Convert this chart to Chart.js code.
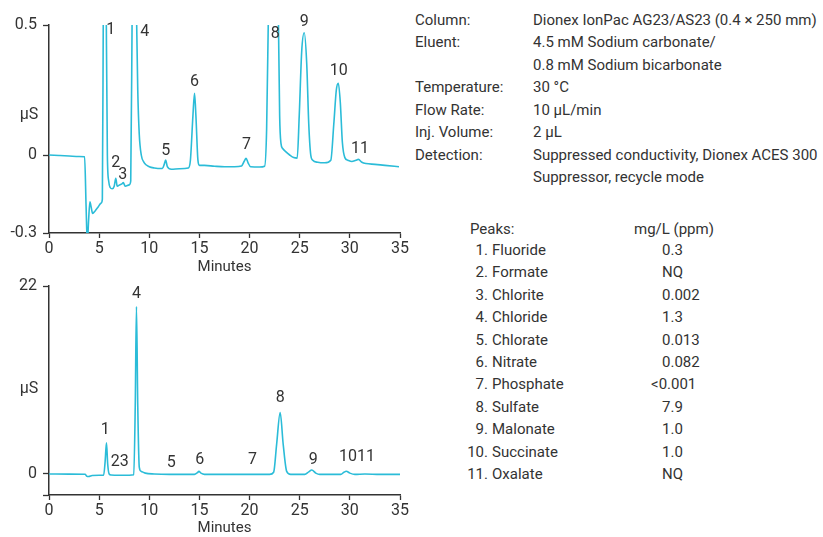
<!DOCTYPE html>
<html>
<head>
<meta charset="utf-8">
<script src="https://cdn.jsdelivr.net/npm/chart.js@4/dist/chart.umd.min.js"></script>
<style>
  body { margin: 0; background: #fff; }
  #wrap { position: relative; width: 823px; height: 537px; font-family: Roboto, "Liberation Sans", sans-serif; color: #333; }
  canvas { position: absolute; left: 0; }
  .t { position: absolute; white-space: nowrap; font-size: 15px; line-height: 22.4px; }
  .unit { position: absolute; font-size: 16px; transform: translate(-50%, -50%); }
</style>
</head>
<body>
<div id="wrap">
  <canvas id="topChart" width="410" height="280" style="top:0"></canvas>
  <canvas id="bottomChart" width="410" height="267" style="top:270px"></canvas>
  <div class="unit" style="left:29px; top:113px">µS</div>
  <div class="unit" style="left:29px; top:387px">µS</div>
  <div id="conditions"></div>
  <div id="peaks"></div>
</div>
<script>
// Escala de tempo
const xTicks = [0, 5, 10, 15, 20, 25, 30, 35];

// Cromatograma de cima (zoom)
const topTimes = [0, 1, 2, 3, 3.55, 3.7, 3.82, 3.95, 4.08, 4.2, 4.35, 4.6, 4.9, 5.2, 5.32, 5.42, 5.55, 5.7, 5.82, 5.95,
  6.1, 6.3, 6.5, 6.66, 6.8, 7.05, 7.3, 7.4, 7.6, 8.0, 8.15, 8.3, 8.5, 8.7, 8.85, 9.0, 9.2, 9.5, 10.0, 10.5,
  11.3, 11.5, 11.63, 11.8, 12.2, 13, 13.9, 14.1, 14.35, 14.51, 14.65, 14.85, 15.0, 15.5, 16.5, 17.5, 18.5, 19.2, 19.45, 19.65,
  19.85, 20.1, 21, 21.5, 21.7, 21.9, 22.4, 22.85, 23.0, 23.13, 23.3, 23.6, 24.0, 24.4, 24.75, 24.95, 25.2, 25.45, 25.7, 25.9,
  26.1, 26.3, 26.8, 27.5, 28.1, 28.4, 28.65, 28.85, 29.05, 29.25, 29.5, 29.8, 30.2, 30.6, 30.85, 31.2, 31.6, 32.5, 33.5, 34.9];
const topValues = [0, -0.002, -0.004, -0.006, -0.007, -0.2, -0.34, -0.25, -0.18, -0.2, -0.225, -0.215, -0.2, -0.185, -0.17, 0.6, 1.5, 0.6, 0.0, -0.1,
  -0.125, -0.13, -0.12, -0.09, -0.12, -0.115, -0.11, -0.106, -0.12, -0.115, -0.1, 0.6, 1.5, 0.6, 0.25, 0.08, 0.0, -0.03, -0.045, -0.05,
  -0.052, -0.035, -0.019, -0.045, -0.055, -0.053, -0.05, -0.02, 0.15, 0.237, 0.15, -0.02, -0.04, -0.04, -0.043, -0.045, -0.045, -0.042, -0.025, -0.013,
  -0.03, -0.045, -0.046, -0.043, 0.1, 0.6, 1.5, 0.6, 0.15, 0.045, 0.025, 0.013, 0.0, -0.01, -0.012, 0.15, 0.4, 0.47, 0.35, 0.12,
  0.0, -0.02, -0.028, -0.03, -0.02, 0.12, 0.25, 0.276, 0.2, 0.05, -0.01, -0.02, -0.025, -0.02, -0.017, -0.028, -0.033, -0.036, -0.04, -0.045];
const topYTicks = [-0.3, 0, 0.5];
const topLabelText = ['1', '2', '3', '4', '5', '6', '7', '8', '9', '10', '11'];
const topLabelTime = [6.16, 6.66, 7.36, 9.54, 11.63, 14.51, 19.7, 22.55, 25.45, 28.9, 31.0];
const topLabelValue = [0.48, -0.031, -0.077, 0.473, 0.015, 0.28, 0.038, 0.465, 0.51, 0.323, 0.023];

// Cromatograma de baixo (escala completa)
const bottomTimes = [0, 2, 3.6, 3.75, 3.95, 4.3, 5.0, 5.45, 5.6, 5.73, 5.85, 6.0, 6.2, 7, 8.0, 8.45, 8.6, 8.72, 8.85, 9.0,
  9.2, 9.6, 10.5, 12, 14.5, 14.8, 14.95, 15.15, 15.5, 18, 20, 22.0, 22.4, 22.7, 23.05, 23.35, 23.7, 24.1, 25.5, 25.9,
  26.2, 26.6, 27.0, 29.1, 29.4, 29.65, 30.0, 30.5, 31.5, 33, 35.1];
const bottomValues = [0, -0.02, -0.03, -0.25, -0.3, -0.18, -0.15, -0.15, 1.5, 3.66, 1.2, 0.0, -0.12, -0.15, -0.15, -0.1, 8, 19.6, 8, 0.8,
  0.3, 0.1, 0.0, -0.05, -0.05, 0.15, 0.3, 0.1, -0.05, -0.05, -0.05, -0.05, 0.2, 3.5, 7.2, 3.5, 0.3, -0.05, -0.05, 0.25,
  0.47, 0.1, -0.05, -0.05, 0.2, 0.32, 0.1, -0.05, 0.0, -0.05, -0.05];
const bottomYMin = -2.46;
const bottomYTicks = [bottomYMin, 0, 22];
const bottomLabelText = ['1', '23', '4', '5', '6', '7', '8', '9', '1011'];
const bottomLabelTime = [5.6, 7.06, 8.72, 12.2, 15.04, 20.3, 23.06, 26.34, 30.7];
const bottomLabelValue = [5.2, 1.44, 21.1, 1.24, 1.64, 1.64, 8.85, 1.64, 2.02];

// Condições e picos
const condNames = ['Column:', 'Eluent:', '', 'Temperature:', 'Flow Rate:', 'Inj. Volume:', 'Detection:', ''];
const condValues = ['Dionex IonPac AG23/AS23 (0.4 × 250 mm)', '4.5 mM Sodium carbonate/', '0.8 mM Sodium bicarbonate',
  '30 °C', '10 µL/min', '2 µL', 'Suppressed conductivity, Dionex ACES 300', 'Suppressor, recycle mode'];
const peakNames = ['Fluoride', 'Formate', 'Chlorite', 'Chloride', 'Chlorate', 'Nitrate', 'Phosphate', 'Sulfate', 'Malonate', 'Succinate', 'Oxalate'];
const peakConc = ['0.3', 'NQ', '0.002', '1.3', '0.013', '0.082', '<0.001', '7.9', '1.0', '1.0', 'NQ'];

const lineColor = '#2bbcd8';
const axisColor = '#333';
const fontFamily = 'Roboto, "Liberation Sans", sans-serif';

// Texto à direita
let html = '';
condNames.forEach((n, i) => {
  const top = 9 + i * 22.45;
  html += `<div class="t" style="left:415px; top:${top}px">${n}</div>`;
  html += `<div class="t" style="left:533px; top:${top}px">${condValues[i]}</div>`;
});
document.getElementById('conditions').innerHTML = html;

html = `<div class="t" style="left:470px; top:218px">Peaks:</div>`;
html += `<div class="t" style="left:634px; top:218px">mg/L (ppm)</div>`;
peakNames.forEach((n, i) => {
  const top = 239 + i * 22.4;
  html += `<div class="t" style="left:455px; width:33px; text-align:right; top:${top}px">${i + 1}.</div>`;
  html += `<div class="t" style="left:492px; top:${top}px">${n}</div>`;
  const c = peakConc[i];
  const val = c.startsWith('<') ? `<span style="margin-left:-11px">&lt;</span>${c.slice(1)}` : c;
  html += `<div class="t" style="left:662px; top:${top}px">${val}</div>`;
});
document.getElementById('peaks').innerHTML = html;

// Plugin para rótulos dos picos
const peakLabels = {
  id: 'peakLabels',
  afterDatasetsDraw(chart, args, opts) {
    const ctx = chart.ctx;
    const xs = chart.scales.x, ys = chart.scales.y;
    ctx.save();
    ctx.font = '16px ' + fontFamily;
    ctx.fillStyle = axisColor;
    ctx.textAlign = 'center';
    ctx.textBaseline = 'middle';
    opts.text.forEach((t, i) => {
      ctx.fillText(t, xs.getPixelForValue(opts.time[i]), ys.getPixelForValue(opts.value[i]));
    });
    ctx.restore();
  }
};

function makeChart(id, times, values, yMin, yMax, yTicks, padTop, xHeight, titlePad, labels) {
  return new Chart(document.getElementById(id), {
    type: 'line',
    data: {
      datasets: [{
        data: times.map((t, i) => ({ x: t, y: values[i] })),
        borderColor: lineColor,
        borderWidth: 1.6,
        pointRadius: 0,
        cubicInterpolationMode: 'monotone',
        fill: false
      }]
    },
    options: {
      responsive: false,
      animation: false,
      devicePixelRatio: 1,
      layout: { padding: { top: padTop, right: 8, left: 0, bottom: 0 } },
      plugins: {
        legend: { display: false },
        tooltip: { enabled: false },
        peakLabels: labels
      },
      scales: {
        x: {
          type: 'linear',
          min: 0,
          max: 35,
          afterBuildTicks: s => { s.ticks = xTicks.map(v => ({ value: v })); },
          afterFit: s => { s.height = xHeight; },
          grid: { drawOnChartArea: false, drawTicks: true, tickLength: 5, tickColor: axisColor, tickWidth: 1.3 },
          border: { color: axisColor, width: 1.5 },
          ticks: { color: axisColor, padding: 1, font: { family: fontFamily, size: 16 } },
          title: { display: true, text: 'Minutes', color: axisColor, padding: { top: 0, bottom: titlePad }, font: { family: fontFamily, size: 15 } }
        },
        y: {
          min: yMin,
          max: yMax,
          afterBuildTicks: s => { s.ticks = yTicks.map(v => ({ value: v })); },
          afterFit: s => { s.width = 49; },
          grid: { drawOnChartArea: false, drawTicks: true, tickLength: 6, tickColor: axisColor, tickWidth: 1.3 },
          border: { color: axisColor, width: 1.5 },
          ticks: {
            color: axisColor, padding: 6, font: { family: fontFamily, size: 16 },
            callback: v => (v === bottomYMin ? '' : String(v))
          }
        }
      }
    },
    plugins: [peakLabels]
  });
}

makeChart('topChart', topTimes, topValues, -0.3, 0.5, topYTicks, 25, 47, 4,
  { text: topLabelText, time: topLabelTime, value: topLabelValue });
makeChart('bottomChart', bottomTimes, bottomValues, bottomYMin, 22, bottomYTicks, 16, 42, 0,
  { text: bottomLabelText, time: bottomLabelTime, value: bottomLabelValue });
</script>
</body>
</html>
